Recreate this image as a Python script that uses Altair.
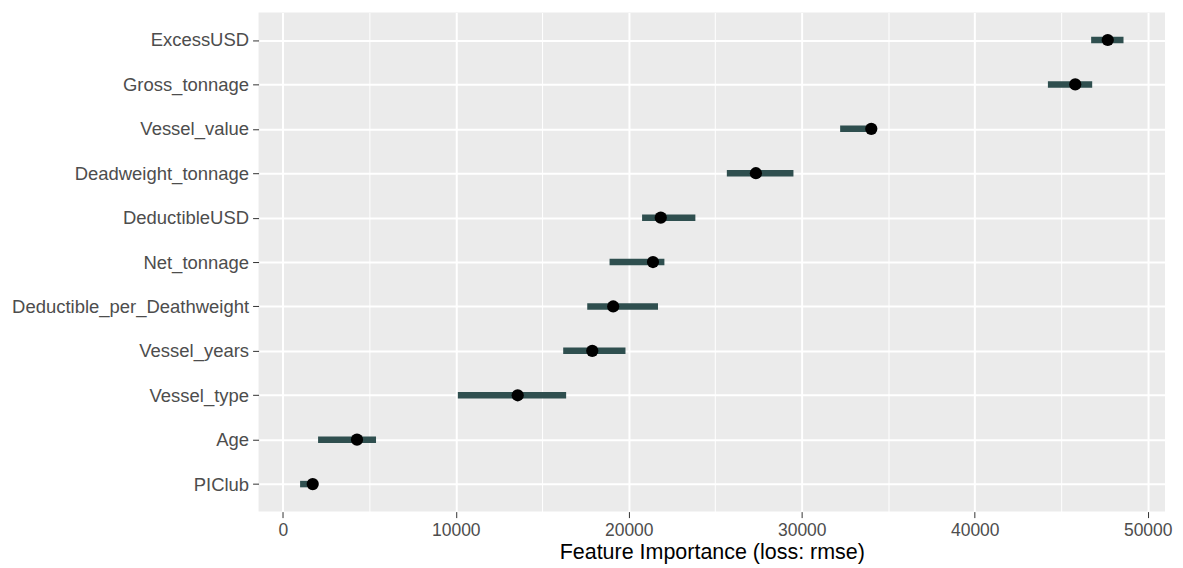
import altair as alt
import pandas as pd

features = ["ExcessUSD", "Gross_tonnage", "Vessel_value", "Deadweight_tonnage",
            "DeductibleUSD", "Net_tonnage", "Deductible_per_Deathweight",
            "Vessel_years", "Vessel_type", "Age", "PIClub"]
importance = [47690, 45810, 34020, 27350, 21850, 21400, 19100, 17890, 13580, 4290, 1730]
lower = [46730, 44230, 32220, 25670, 20770, 18890, 17600, 16210, 10120, 2040, 1000]
upper = [48600, 46790, 34150, 29520, 23850, 22060, 21690, 19810, 16380, 5390, 1800]

df = pd.DataFrame({"feature": features, "importance": importance,
                   "lower": lower, "upper": upper})

tick_vals = list(range(0, 50001, 5000))

xscale = alt.Scale(domain=[-1400, 51000], nice=False, zero=False)
yscale = alt.Scale(type="point", padding=0.62)

xaxis = alt.Axis(
    title="Feature Importance (loss: rmse)",
    values=tick_vals,
    format="d",
    labelExpr="datum.value % 10000 === 0 ? datum.label : ''",
    grid=True,
    gridColor="white",
    gridWidth={"condition": {"test": "datum.value % 10000 !== 0", "value": 1}, "value": 2},
    tickOpacity={"condition": {"test": "datum.value % 10000 !== 0", "value": 0}, "value": 1},
    domain=False,
    tickColor="#333333",
    tickSize=6,
    tickWidth=1,
    labelColor="#4D4D4D",
    labelFontSize=17.5,
    labelFont="Liberation Sans",
    labelPadding=4,
    titleFont="Liberation Sans",
    titleFontSize=21.5,
    titleFontWeight="normal",
    titleColor="black",
    titlePadding=2,
)

yaxis = alt.Axis(
    title=None,
    grid=True,
    gridColor="white",
    gridWidth=2,
    domain=False,
    tickColor="#333333",
    tickSize=6,
    tickWidth=1,
    labelColor="#4D4D4D",
    labelFontSize=18.5,
    labelFont="Liberation Sans",
    labelPadding=4,
    labelLimit=0,
)

bars = alt.Chart(df).mark_rule(color="#2F4F4F", strokeWidth=6.5, strokeCap="butt").encode(
    x=alt.X("lower:Q", scale=xscale, axis=xaxis),
    x2="upper:Q",
    y=alt.Y("feature:N", sort=features, scale=yscale, axis=yaxis),
)

points = alt.Chart(df).mark_circle(color="black", size=150, opacity=1).encode(
    x=alt.X("importance:Q", scale=xscale),
    y=alt.Y("feature:N", sort=features, scale=yscale),
)

chart = alt.layer(bars, points).properties(
    width=908,
    height=500,
    autosize=alt.AutoSizeParams(type="none"),
    padding={"left": 251, "top": 4, "right": 10, "bottom": 55},
    background="white",
).configure_view(fill="#EBEBEB", stroke=None)

chart.save("out.html", embed_options={"renderer": "svg", "actions": False})
